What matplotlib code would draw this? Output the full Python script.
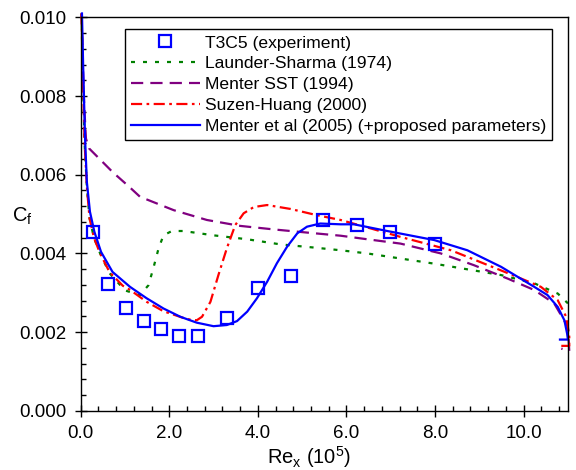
import matplotlib
matplotlib.use("Agg")
import matplotlib.pyplot as plt
from matplotlib.ticker import MultipleLocator, FormatStrFormatter

plt.rcParams["font.family"] = ["Liberation Sans", "DejaVu Sans"]
plt.rcParams["mathtext.default"] = "regular"

# T3C5 measurements
exp_x = [0.27, 0.62, 1.02, 1.42, 1.81, 2.22, 2.64, 3.30, 4.00, 4.74, 5.48, 6.23, 6.98, 8.01]
exp_cf = [0.00454, 0.00322, 0.00260, 0.00229, 0.00207, 0.00191, 0.00189,
          0.00235, 0.00311, 0.00343, 0.00484, 0.00471, 0.00455, 0.00424]

# Launder-Sharma (1974)
ls_x = [0.02, 0.05, 0.09, 0.14, 0.20, 0.30, 0.44, 0.65, 1.00, 1.34, 1.53, 1.64,
        1.76, 1.87, 2.06, 2.32, 3.00, 3.76, 4.51, 5.26, 5.87, 6.47, 7.98, 9.49,
        10.24, 10.77, 11.0]
ls_cf = [0.0101, 0.0085, 0.0068, 0.0057, 0.0049, 0.0044, 0.0040, 0.00350, 0.00306,
         0.00294, 0.00319, 0.00362, 0.00413, 0.00446, 0.00457, 0.00457, 0.00446,
         0.00436, 0.00423, 0.00415, 0.00408, 0.00400, 0.00374, 0.00345, 0.00324,
         0.00298, 0.00273]

# Menter SST (1994)
sst_x = [0.02, 0.05, 0.08, 0.12, 0.19, 0.42, 0.72, 1.10, 1.34, 2.10, 2.85, 3.60,
         4.36, 5.11, 5.87, 6.47, 7.22, 8.13, 8.88, 9.64, 10.24, 10.69, 11.0, 11.03, 10.85]
sst_cf = [0.0101, 0.0088, 0.00777, 0.00692, 0.00667, 0.00641, 0.00607, 0.00569,
          0.00544, 0.00510, 0.00485, 0.00470, 0.00461, 0.00453, 0.00445, 0.00436,
          0.00425, 0.00400, 0.00370, 0.00336, 0.00307, 0.00273, 0.00213, 0.00152, 0.00158]

# Suzen-Huang (2000)
sh_x = [0.02, 0.05, 0.09, 0.14, 0.20, 0.30, 0.44, 0.65, 0.95, 1.12, 1.49, 1.87,
        2.40, 2.62, 2.74, 2.93, 3.11, 3.30, 3.49, 3.68, 3.91, 4.21, 4.74, 5.34,
        5.87, 6.47, 7.22, 8.36, 9.11, 9.86, 10.39, 10.77, 10.96, 11.03, 11.03, 10.85]
sh_cf = [0.0101, 0.0085, 0.0068, 0.0057, 0.0049, 0.0044, 0.0040, 0.00353, 0.00318,
         0.00307, 0.00277, 0.00253, 0.00233, 0.00230, 0.00239, 0.00277, 0.00345,
         0.00413, 0.00472, 0.00502, 0.00518, 0.00523, 0.00513, 0.00497, 0.00485,
         0.00466, 0.00442, 0.00408, 0.00374, 0.00340, 0.00315, 0.00281, 0.00239,
         0.00188, 0.00165, 0.00165]

# Menter et al (2005) with the proposed parameters
me_x = [0.03, 0.06, 0.10, 0.14, 0.21, 0.31, 0.46, 0.72, 1.115, 1.49, 1.87, 2.25,
        2.62, 3.00, 3.30, 3.53, 3.76, 3.98, 4.21, 4.43, 4.66, 4.89, 5.11, 5.41,
        5.87, 6.17, 6.92, 7.98, 8.73, 9.49, 10.24, 10.54, 10.77, 10.92, 10.98, 11.0, 10.82]
me_cf = [0.0101, 0.00861, 0.00692, 0.00582, 0.00506, 0.00455, 0.00404, 0.00353,
         0.00315, 0.00286, 0.00260, 0.00239, 0.00224, 0.00215, 0.00218, 0.00228,
         0.00252, 0.00286, 0.00328, 0.00375, 0.00417, 0.00451, 0.00468, 0.00476,
         0.00474, 0.00474, 0.00457, 0.00434, 0.00408, 0.00366, 0.00315, 0.00294,
         0.00264, 0.00230, 0.00197, 0.00181, 0.00181]

fig = plt.figure(figsize=(5.76, 4.70), dpi=100)
ax = fig.add_axes([0.140, 0.126, 0.846, 0.837])

lw = 1.6
ax.plot(exp_x, exp_cf, "s", color="blue", mfc="none", mec="blue", ms=8.5, mew=1.6,
        label="T3C5 (experiment)", zorder=5)
ax.plot(ls_x, ls_cf, color="green", lw=lw, dashes=(1.8, 3.6),
        label="Launder-Sharma (1974)", clip_on=False)
ax.plot(sst_x, sst_cf, color="purple", lw=lw, dashes=(5.5, 3.2),
        label="Menter SST (1994)", clip_on=False)
ax.plot(sh_x, sh_cf, color="red", lw=lw, dashes=(5.0, 2.0, 1.2, 2.0),
        label="Suzen-Huang (2000)", clip_on=False)
ax.plot(me_x, me_cf, color="blue", lw=lw,
        label="Menter et al (2005) (+proposed parameters)", clip_on=False)

ax.set_xlim(0, 11.0)
ax.set_ylim(0, 0.010)
ax.xaxis.set_major_locator(MultipleLocator(2.0))
ax.xaxis.set_minor_locator(MultipleLocator(0.4))
ax.yaxis.set_major_locator(MultipleLocator(0.002))
ax.yaxis.set_minor_locator(MultipleLocator(0.0004))
ax.xaxis.set_major_formatter(FormatStrFormatter("%.1f"))
ax.yaxis.set_major_formatter(FormatStrFormatter("%.3f"))
ax.tick_params(which="major", direction="inout", length=9, width=1.0,
               labelsize=13.5, pad=5.5, top=False, right=False)
ax.tick_params(which="minor", direction="in", length=3.5, width=1.0,
               top=False, right=False)
for sp in ax.spines.values():
    sp.set_linewidth(1.0)

ax.set_xlabel("Re$_x$ (10$^5$)", fontsize=14.5, va="center")
ax.xaxis.set_label_coords(0.469, -0.117)
ax.set_ylabel("C$_f$", fontsize=14.5, rotation=0, va="center")
ax.yaxis.set_label_coords(-0.12, 0.495)

leg = ax.legend(loc="upper right", bbox_to_anchor=(0.968, 0.970), borderaxespad=0,
                fontsize=12.6, numpoints=1, handlelength=3.9, handletextpad=0.3,
                labelspacing=0.32, borderpad=0.35, fancybox=False, framealpha=1,
                edgecolor="black")
leg.get_frame().set_linewidth(1.0)

fig.savefig("out.png", dpi=100)
